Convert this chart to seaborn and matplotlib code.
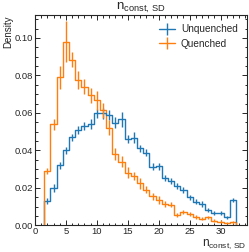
import numpy as np
import pandas as pd
import matplotlib
matplotlib.use("Agg")
import matplotlib.pyplot as plt
import seaborn as sns
from matplotlib.lines import Line2D
from matplotlib.legend_handler import HandlerTuple
from matplotlib.ticker import MultipleLocator, AutoMinorLocator, FormatStrFormatter

# ---------------- data ----------------
bin_centers = list(range(2, 33))            # n_const,SD bins of width 1
bin_edges = [c - 0.5 for c in bin_centers] + [bin_centers[-1] + 0.5]

unquenched = [0.013, 0.020, 0.032, 0.040, 0.047, 0.051, 0.053, 0.054, 0.0597, 0.0597,
              0.0588, 0.0548, 0.0567, 0.046, 0.0467, 0.041, 0.0388, 0.0313, 0.0315, 0.0251,
              0.0238, 0.021, 0.0188, 0.0149, 0.0126, 0.0114, 0.0082, 0.0064, 0.0065, 0.0043,
              0.0135]
unquenched_err = [0.0015, 0.002, 0.002, 0.002, 0.002, 0.002, 0.002, 0.0025, 0.0025, 0.003,
                  0.0025, 0.003, 0.004, 0.002, 0.003, 0.002, 0.002, 0.002, 0.002, 0.0015,
                  0.0015, 0.0015, 0.0015, 0.0015, 0.0015, 0.0015, 0.001, 0.001, 0.001, 0.0008,
                  0.0012]

quenched = [0.029, 0.054, 0.079, 0.098, 0.0885, 0.0775, 0.074, 0.0695, 0.0668, 0.0615,
            0.052, 0.038, 0.034, 0.028, 0.0264, 0.0225, 0.019, 0.0155, 0.0135, 0.0115,
            0.011, 0.0055, 0.0072, 0.006, 0.0046, 0.0036, 0.0042, 0.0025, 0.002, 0.0013,
            0.0015]
quenched_err = [0.0015, 0.003, 0.006, 0.011, 0.004, 0.005, 0.004, 0.004, 0.005, 0.004,
                0.004, 0.003, 0.003, 0.003, 0.002, 0.003, 0.002, 0.002, 0.002, 0.0015,
                0.0015, 0.001, 0.0012, 0.0012, 0.001, 0.001, 0.001, 0.0008, 0.0008, 0.0006,
                0.0008]

series_names = ["Unquenched", "Quenched"]
colors = ["#1f77b4", "#ff7f0e"]

# ---------------- style ----------------
sns.set_style("ticks")
plt.rcParams["font.family"] = ["Liberation Sans", "DejaVu Sans"]
plt.rcParams["mathtext.fontset"] = "custom"
plt.rcParams["mathtext.rm"] = "Liberation Sans"
plt.rcParams["mathtext.it"] = "Liberation Sans:italic"
plt.rcParams["mathtext.default"] = "regular"
plt.rcParams["axes.linewidth"] = 0.8

fig = plt.figure(figsize=(2.49, 2.52), dpi=100)
ax = fig.add_axes([0.1406, 0.106, 0.8494, 0.834])

df = pd.DataFrame({
    "n": bin_centers * 2,
    "density": unquenched + quenched,
    "sample": [series_names[0]] * len(bin_centers) + [series_names[1]] * len(bin_centers),
})

sns.histplot(data=df, x="n", weights="density", hue="sample", hue_order=series_names,
             palette=colors, bins=bin_edges, element="step", fill=False, stat="count",
             linewidth=1.0, legend=False, ax=ax)

handles = []
for vals, errs, col in [(unquenched, unquenched_err, colors[0]), (quenched, quenched_err, colors[1])]:
    ax.vlines([bin_edges[0], bin_edges[-1]], 0, [vals[0], vals[-1]], color=col, lw=1.0)
    ax.errorbar(bin_centers, vals, yerr=errs, fmt="none", ecolor=col, elinewidth=1.0)
    handles.append((Line2D([], [], color=col, lw=1.0),
                    Line2D([], [], color=col, marker="|", linestyle="none",
                           markersize=9, markeredgewidth=1.0)))

ax.set_xlim(0, 34.2)
ax.set_ylim(0, 0.1122)

ax.xaxis.set_major_locator(MultipleLocator(5))
ax.xaxis.set_minor_locator(MultipleLocator(1))
ax.yaxis.set_major_locator(MultipleLocator(0.02))
ax.yaxis.set_minor_locator(AutoMinorLocator(4))
ax.yaxis.set_major_formatter(FormatStrFormatter("%.2f"))
ax.tick_params(which="both", direction="in", top=True, right=True, labelsize=6.8,
               width=0.7, pad=1.5)
ax.tick_params(which="major", length=3.5)
ax.tick_params(which="minor", length=1.8)

label = r"$n_{const,\,SD}$"
ax.set_title(label, fontsize=9.5, pad=2)
ax.set_xlabel(label, fontsize=8.5, loc="right", labelpad=1)
ax.set_ylabel("Density", fontsize=7, loc="top", labelpad=1)

ax.legend(handles, series_names, handler_map={tuple: HandlerTuple(ndivide=1)},
          loc="upper right", frameon=False, fontsize=7.2, handlelength=1.6,
          handletextpad=0.6, borderaxespad=0.5, labelspacing=0.45)

fig.savefig("out.png", dpi=100)
